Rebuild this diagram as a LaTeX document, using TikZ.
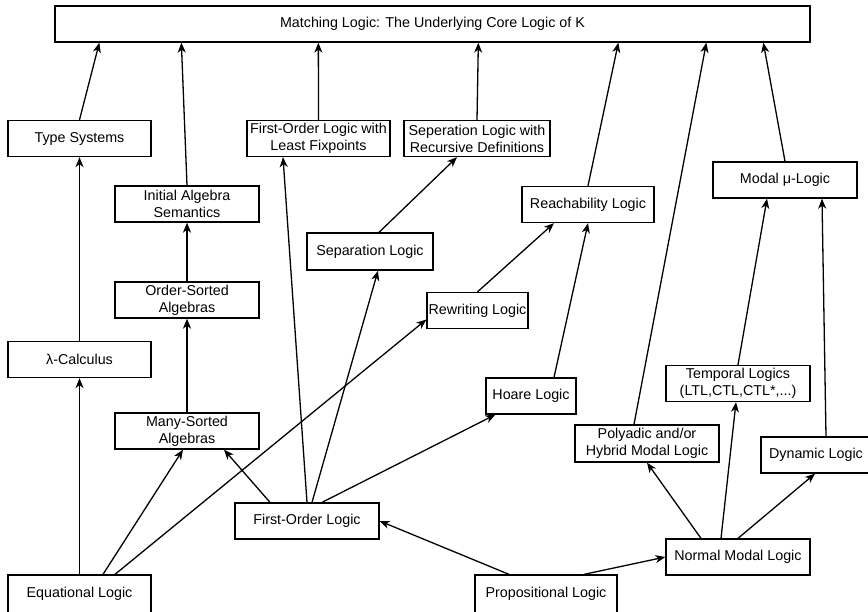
\documentclass[tikz,border=0pt]{standalone}
\usepackage{fontspec}
\setmainfont{Liberation Sans}
\usepackage{tikz}
\usetikzlibrary{arrows.meta}

\begin{document}
\begin{tikzpicture}[
                x=1pt, y=-1pt,
                >={Stealth[length=10pt,width=8pt,inset=3pt]},
                line width=1.3pt,
                % Define styles for nodes
                logic/.style={rectangle, draw=black, fill=white, align=center, inner sep=1pt,
                    minimum width=143pt, minimum height=36pt,
                    font=\fontsize{14.3pt}{17pt}\selectfont},
                link/.style={->, black}
            ]
                \useasboundingbox (0,0) rectangle (868,611);
                \clip (0,0) rectangle (868,611);

                % Define nodes
                \node[logic, minimum width=755pt] (Top) at (432.5,24) {Matching Logic: The Underlying Core Logic of K};

                \node[logic] (TypeSys) at (79.5,138.5) {Type Systems};
                \node[logic] (FOLLFP) at (318.5,138.5) {First-Order Logic with\\Least Fixpoints};
                \node[logic, minimum width=146pt] (SepRec) at (477,138.5) {Seperation Logic with\\Recursive Definitions};
                \node[logic, minimum width=144pt] (InitAlg) at (187,204) {Initial Algebra\\Semantics};
                \node[logic, minimum width=144pt] (ModalMu) at (785,180) {Modal μ-Logic};
                \node[logic, minimum width=132pt] (Reach) at (588,204.5) {Reachability Logic};
                \node[logic, minimum width=126pt, minimum height=37pt] (SepLogic) at (370,251.5) {Separation Logic};
                \node[logic, minimum width=144pt] (OrderSorted) at (187,300) {Order-Sorted\\Algebras};
                \node[logic, minimum width=101pt] (Rewriting) at (477.5,310.5) {Rewriting Logic};
                \node[logic] (Lambda) at (79.5,359.5) {λ-Calculus};
                \node[logic, minimum width=144pt] (Temporal) at (738,383.5) {Temporal Logics\\(LTL,CTL,CTL*,...)};
                \node[logic, minimum width=90pt] (Hoare) at (531,396) {Hoare Logic};
                \node[logic, minimum width=144pt] (ManySorted) at (187,431) {Many-Sorted\\Algebras};
                \node[logic, minimum width=144pt, minimum height=37pt] (Polyadic) at (647,443.5) {Polyadic and/or\\Hybrid Modal Logic};
                \node[logic, minimum width=110pt] (Dynamic) at (816,455) {Dynamic Logic};
                \node[logic, minimum width=144pt] (FOL) at (307,521) {First-Order Logic};
                \node[logic, minimum width=144pt] (NormalModal) at (738,557) {Normal Modal Logic};
                \node[logic, minimum height=38pt] (Equational) at (79.5,594) {Equational Logic};
                \node[logic, minimum width=142pt, minimum height=38pt] (Propositional) at (546,594) {Propositional Logic};

                % Draw connections into the core logic
                \draw[link] (TypeSys.north) -- ([xshift=45pt]Top.south west);
                \draw[link] (InitAlg.north) -- ([xshift=127pt]Top.south west);
                \draw[link] (FOLLFP.north) -- ([xshift=264pt]Top.south west);
                \draw[link] (SepRec.north) -- ([xshift=424pt]Top.south west);
                \draw[link] (Reach.north) -- ([xshift=564pt]Top.south west);
                \draw[link] ([xshift=-13pt]Polyadic.north) -- ([xshift=652pt]Top.south west);
                \draw[link] (ModalMu.north) -- ([xshift=709pt]Top.south west);

                % Draw connections on the left
                \draw[link] (Lambda) -- (TypeSys);
                \draw[link] (OrderSorted) -- (InitAlg);
                \draw[link] (ManySorted) -- (OrderSorted);
                \draw[link] (Equational) -- (Lambda);
                \draw[link] ([xshift=23.5pt]Equational.north) -- ([xshift=-4pt]ManySorted.south);
                \draw[link] ([xshift=35.5pt]Equational.north) -- ([yshift=-9pt]Rewriting.west);

                % Draw connections from first-order logic
                \draw[link] ([xshift=-37pt]FOL.north) -- ([xshift=37pt]ManySorted.south);
                \draw[link] (FOL.north) -- ([xshift=-35.5pt]FOLLFP.south);
                \draw[link] ([xshift=5pt]FOL.north) -- ([xshift=8pt]SepLogic.south);
                \draw[link] ([xshift=15pt]FOL.north) -- ([xshift=10pt]Hoare.south west);
                \draw[link] ([xshift=9pt]SepLogic.north) -- ([xshift=-20pt]SepRec.south);
                \draw[link] (Rewriting.north) -- ([xshift=-34pt]Reach.south);
                \draw[link] ([xshift=23pt]Hoare.north) -- (Reach.south);

                % Draw connections of the modal logics
                \draw[link] ([xshift=-37pt]Propositional.north) -- (FOL.east);
                \draw[link] ([xshift=38pt]Propositional.north) -- (NormalModal.west);
                \draw[link] ([xshift=-37pt]NormalModal.north) -- (Polyadic.south);
                \draw[link] ([xshift=-17pt]NormalModal.north) -- ([xshift=-2pt]Temporal.south);
                \draw[link] (NormalModal.north) -- ([xshift=-1pt]Dynamic.south);
                \draw[link] (Temporal.north) -- ([xshift=-18pt]ModalMu.south);
                \draw[link] ([xshift=10pt]Dynamic.north) -- ([xshift=37pt]ModalMu.south);
            \end{tikzpicture}
\end{document}
